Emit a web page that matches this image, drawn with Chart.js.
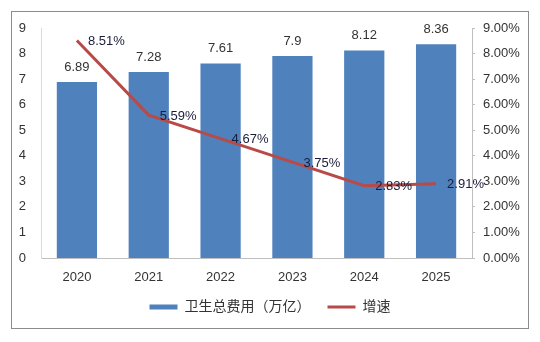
<!DOCTYPE html>
<html>
<head>
<meta charset="utf-8">
<script src="https://cdn.jsdelivr.net/npm/chart.js@4"></script>
<style>
  html, body { margin: 0; padding: 0; background: #fff; }
  #wrap { position: relative; width: 540px; height: 342px; }
  #frame { position: absolute; left: 11px; top: 11px; width: 516px; height: 316px; border: 1px solid #8c8c8c; }
  #chart { position: absolute; left: 0; top: 0; }
</style>
</head>
<body>
<div id="wrap">
  <div id="frame"></div>
  <canvas id="chart" width="540" height="342"></canvas>
</div>
<script>
const years = ['2020', '2021', '2022', '2023', '2024', '2025'];
const spending = [6.89, 7.28, 7.61, 7.9, 8.12, 8.36];       // 卫生总费用（万亿）
const growthRate = [8.51, 5.59, 4.67, 3.75, 2.83, 2.91];    // 增速 (%)
const spendingLabels = ['6.89', '7.28', '7.61', '7.9', '8.12', '8.36'];
const growthLabels = ['8.51%', '5.59%', '4.67%', '3.75%', '2.83%', '2.91%'];

const fontFamily = '"Liberation Sans", "Noto Sans CJK SC", sans-serif';
const barColor = '#4f81bd';
const lineColor = '#b84a48';

// draws value labels next to bars and line points
const valueLabels = {
    id: 'valueLabels',
    afterDatasetsDraw(chart) {
        const ctx = chart.ctx;
        ctx.save();
        ctx.font = '13px ' + fontFamily;
        ctx.textBaseline = 'middle';

        const barMeta = chart.getDatasetMeta(1);
        ctx.fillStyle = '#333';
        ctx.textAlign = 'center';
        barMeta.data.forEach((bar, i) => {
            ctx.fillText(spendingLabels[i], bar.x, bar.y - 15);
        });

        const lineMeta = chart.getDatasetMeta(0);
        ctx.fillStyle = '#1c1c3a';
        ctx.textAlign = 'left';
        lineMeta.data.forEach((pt, i) => {
            ctx.fillText(growthLabels[i], pt.x + 11, pt.y + 1);
        });
        ctx.restore();
    }
};

new Chart(document.getElementById('chart'), {
    type: 'bar',
    data: {
        labels: years,
        datasets: [
            {
                type: 'line',
                label: '增速',
                data: growthRate,
                yAxisID: 'y1',
                borderColor: lineColor,
                backgroundColor: lineColor,
                borderWidth: 3,
                pointRadius: 0,
                pointStyle: 'line',
                tension: 0
            },
            {
                label: '卫生总费用（万亿）',
                data: spending,
                yAxisID: 'y',
                backgroundColor: barColor,
                borderWidth: 0,
                pointStyle: 'rect',
                barPercentage: 0.56,
                categoryPercentage: 1
            }
        ]
    },
    options: {
        responsive: false,
        animation: false,
        layout: { padding: { left: 0, right: 0, top: 28, bottom: 18 } },
        plugins: {
            tooltip: { enabled: false },
            legend: {
                display: true,
                position: 'bottom',
                labels: {
                    usePointStyle: true,
                    pointStyleWidth: 28,
                    boxHeight: 5,
                    padding: 17,
                    color: '#333',
                    font: { family: fontFamily, size: 14 },
                    sort: (a, b) => b.datasetIndex - a.datasetIndex
                }
            }
        },
        scales: {
            x: {
                grid: { display: false, drawTicks: false },
                border: { display: true, color: '#bfbfbf' },
                ticks: { color: '#333', padding: 12, font: { family: fontFamily, size: 13 } },
                afterFit: (scale) => { scale.height = 25; }
            },
            y: {
                position: 'left',
                min: 0,
                max: 9,
                grid: { display: false, drawTicks: false },
                border: { display: true, color: '#d9d9d9' },
                ticks: { stepSize: 1, color: '#333', padding: 15, font: { family: fontFamily, size: 13 } },
                afterFit: (scale) => { scale.width = 41; }
            },
            y1: {
                position: 'right',
                min: 0,
                max: 9,
                grid: { drawOnChartArea: false, drawTicks: true, tickLength: 3, color: '#bfbfbf' },
                border: { display: true, color: '#bfbfbf' },
                ticks: {
                    stepSize: 1,
                    color: '#333',
                    padding: 8,
                    font: { family: fontFamily, size: 13 },
                    callback: (v) => v.toFixed(2) + '%'
                },
                afterFit: (scale) => { scale.width = 68; }
            }
        }
    },
    plugins: [valueLabels]
});
</script>
</body>
</html>
